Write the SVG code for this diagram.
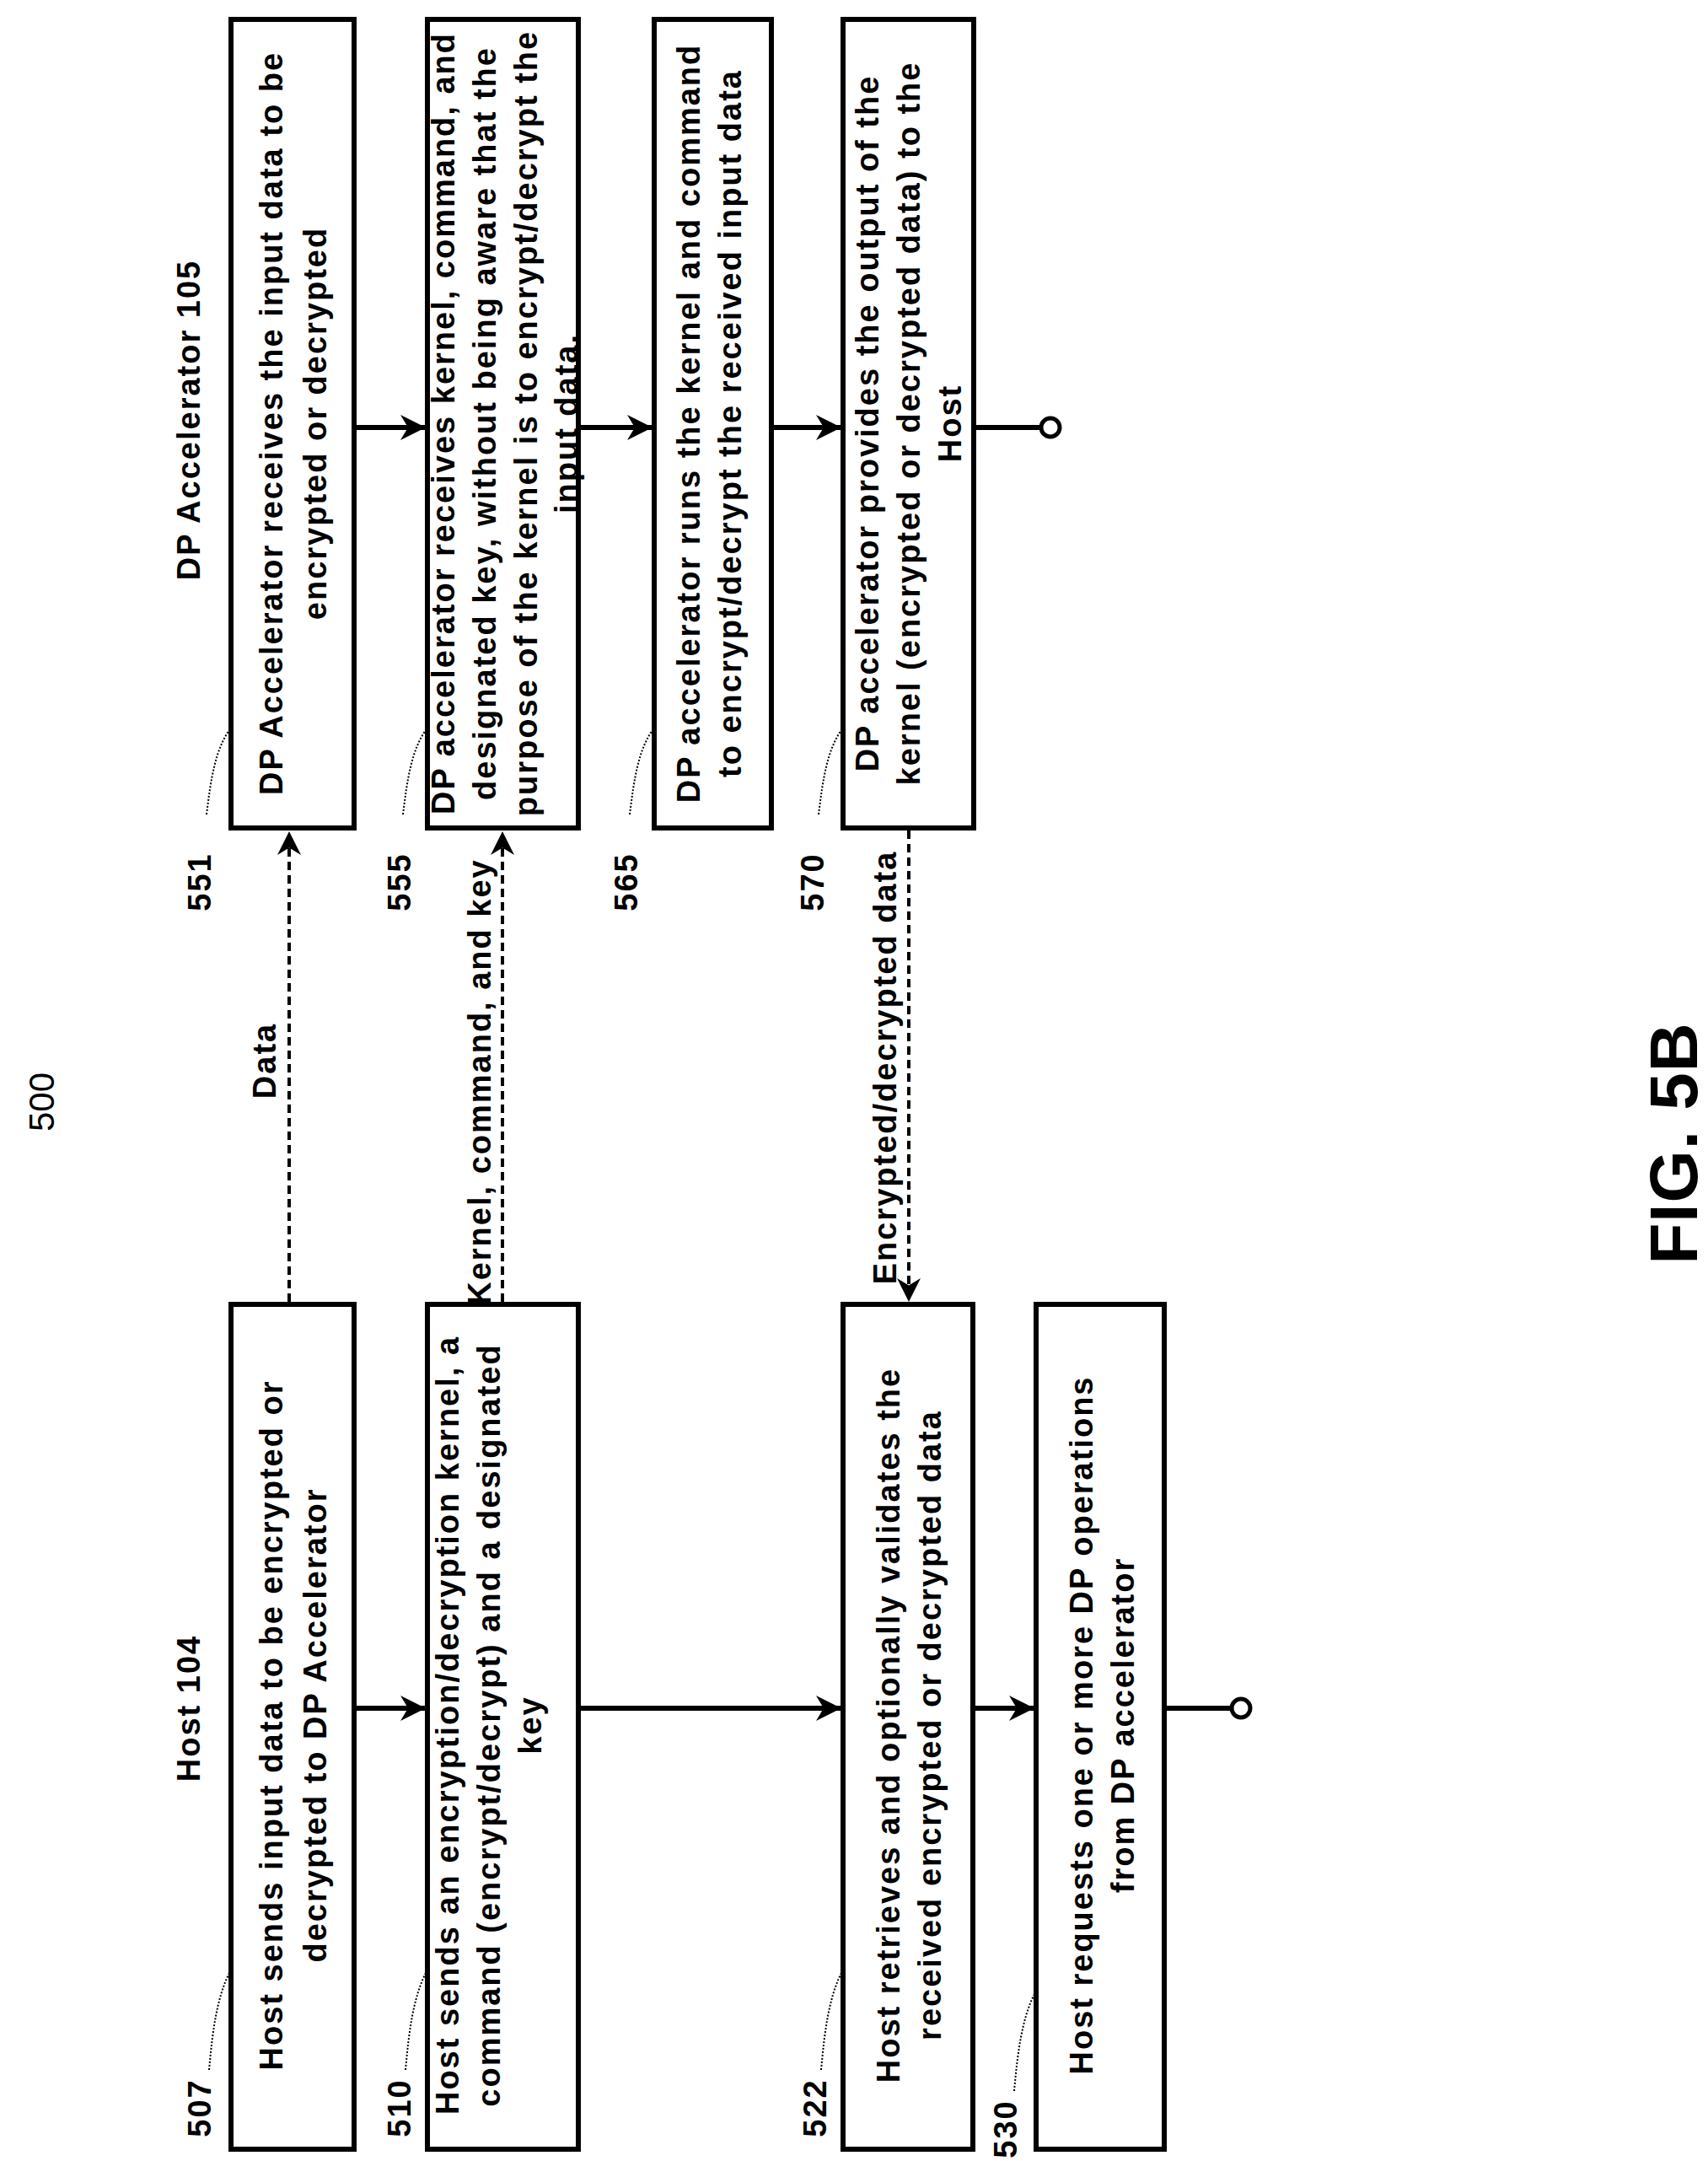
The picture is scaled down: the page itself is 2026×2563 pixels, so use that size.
<svg xmlns="http://www.w3.org/2000/svg" width="2026" height="2563" viewBox="0 0 2026 2563">
<defs>
<style>
.b{fill:#fff;stroke:#000;stroke-width:6}
text{font-family:"Liberation Sans",Arial,sans-serif;font-weight:bold;font-size:38px;text-anchor:middle;dominant-baseline:central;letter-spacing:2px;fill:#000}
.c{stroke:#000;stroke-width:6;fill:none}
.d{stroke:#000;stroke-width:4;fill:none;stroke-dasharray:10 6}
.l{stroke:#000;stroke-width:2;fill:none;stroke-dasharray:2 2}
</style>
<marker id="a" viewBox="0 0 10 10" refX="10" refY="5" markerWidth="5" markerHeight="5" orient="auto" markerUnits="strokeWidth"><path d="M0,0L10,5L0,10L3,5Z" fill="#000"/></marker>
<marker id="a2" viewBox="0 0 10 10" refX="10" refY="5" markerWidth="7" markerHeight="7" orient="auto" markerUnits="strokeWidth"><path d="M0,0L10,5L0,10L3,5Z" fill="#000"/></marker>
</defs>
<rect width="2026" height="2563" fill="#fff"/>
<text transform="translate(49,1307) rotate(-90)" style="font-weight:normal;font-size:42px;letter-spacing:0">500</text>
<text transform="translate(1985,1356) rotate(-90)" style="font-size:80px;letter-spacing:1px">FIG. 5B</text>
<text transform="translate(224,498) rotate(-90)">DP Accelerator 105</text>
<text transform="translate(224,2026) rotate(-90)">Host 104</text>
<g id="connectors">
<path class="c" d="M420,507H505" marker-end="url(#a)"/>
<path class="c" d="M686,507H774" marker-end="url(#a)"/>
<path class="c" d="M915,507H998" marker-end="url(#a)"/>
<path class="c" d="M1155,507H1235"/>
<circle cx="1246" cy="507" r="11" fill="#fff" stroke="#000" stroke-width="5"/>
<path class="c" d="M420,2026H505" marker-end="url(#a)"/>
<path class="c" d="M686,2026H998" marker-end="url(#a)"/>
<path class="c" d="M1154,2026H1227" marker-end="url(#a)"/>
<path class="c" d="M1381,2026H1461"/>
<circle cx="1472" cy="2026" r="11" fill="#fff" stroke="#000" stroke-width="5"/>
<path class="d" d="M343,1544V986" marker-end="url(#a2)"/>
<path class="d" d="M596,1544V986" marker-end="url(#a2)"/>
<path class="d" d="M1078,985V1544" marker-end="url(#a2)"/>
<text transform="translate(314,1258) rotate(-90)">Data</text>
<text transform="translate(569,1283) rotate(-90)">Kernel, command, and key</text>
<text transform="translate(1050,1266) rotate(-90)">Encrypted/decrypted data</text>
</g>
<g id="n551"><rect class="b" x="274" y="23" width="146" height="959"/>
<text transform="translate(322,502) rotate(-90)">DP Accelerator receives the input data to be</text>
<text transform="translate(374,502) rotate(-90)">encrypted or decrypted</text>
<path class="l" d="M245,966C250,925 255,890 272,866"/><text transform="translate(237,1046) rotate(-90)">551</text></g>
<g id="n555"><rect class="b" x="507" y="23" width="179" height="959"/>
<text transform="translate(526,502) rotate(-90)">DP accelerator receives kernel, command, and</text>
<text transform="translate(575,502) rotate(-90)">designated key, without being aware that the</text>
<text transform="translate(624,502) rotate(-90)">purpose of the kernel is to encrypt/decrypt the</text>
<text transform="translate(672,502) rotate(-90)">input data.</text>
<path class="l" d="M478,966C483,925 488,890 505,866"/><text transform="translate(474,1046) rotate(-90)">555</text></g>
<g id="n565"><rect class="b" x="776" y="23" width="139" height="959"/>
<text transform="translate(817,502) rotate(-90)">DP accelerator runs the kernel and command</text>
<text transform="translate(866,502) rotate(-90)">to encrypt/decrypt the received input data</text>
<path class="l" d="M747,966C752,925 757,890 774,866"/><text transform="translate(743,1046) rotate(-90)">565</text></g>
<g id="n570"><rect class="b" x="1000" y="23" width="155" height="959"/>
<text transform="translate(1029,502) rotate(-90)">DP accelerator provides the output of the</text>
<text transform="translate(1078,502) rotate(-90)">kernel (encrypted or decrypted data) to the</text>
<text transform="translate(1127,502) rotate(-90)">Host</text>
<path class="l" d="M971,966C976,925 981,890 998,866"/><text transform="translate(964,1046) rotate(-90)">570</text></g>
<g id="n507"><rect class="b" x="274" y="1547" width="146" height="1002"/>
<text transform="translate(322,2046) rotate(-90)">Host sends input data to be encrypted or</text>
<text transform="translate(374,2046) rotate(-90)">decrypted to DP Accelerator</text>
<path class="l" d="M248,2455C252,2410 257,2370 272,2340"/><text transform="translate(237,2500) rotate(-90)">507</text></g>
<g id="n510"><rect class="b" x="507" y="1547" width="179" height="1002"/>
<text transform="translate(531,2046) rotate(-90)">Host sends an encryption/decryption kernel, a</text>
<text transform="translate(580,2046) rotate(-90)">command (encrypt/decrypt) and a designated</text>
<text transform="translate(629,2046) rotate(-90)">key</text>
<path class="l" d="M481,2455C485,2410 490,2370 505,2340"/><text transform="translate(474,2500) rotate(-90)">510</text></g>
<g id="n522"><rect class="b" x="1000" y="1547" width="154" height="1002"/>
<text transform="translate(1054,2046) rotate(-90)">Host retrieves and optionally validates the</text>
<text transform="translate(1103,2046) rotate(-90)">received encrypted or decrypted data</text>
<path class="l" d="M974,2455C978,2410 983,2370 998,2340"/><text transform="translate(967,2500) rotate(-90)">522</text></g>
<g id="n530"><rect class="b" x="1229" y="1547" width="152" height="1002"/>
<text transform="translate(1283,2046) rotate(-90)">Host requests one or more DP operations</text>
<text transform="translate(1332,2046) rotate(-90)">from DP accelerator</text>
<path class="l" d="M1203,2480C1207,2435 1212,2395 1227,2365"/><text transform="translate(1193,2525) rotate(-90)">530</text></g>
</svg>
